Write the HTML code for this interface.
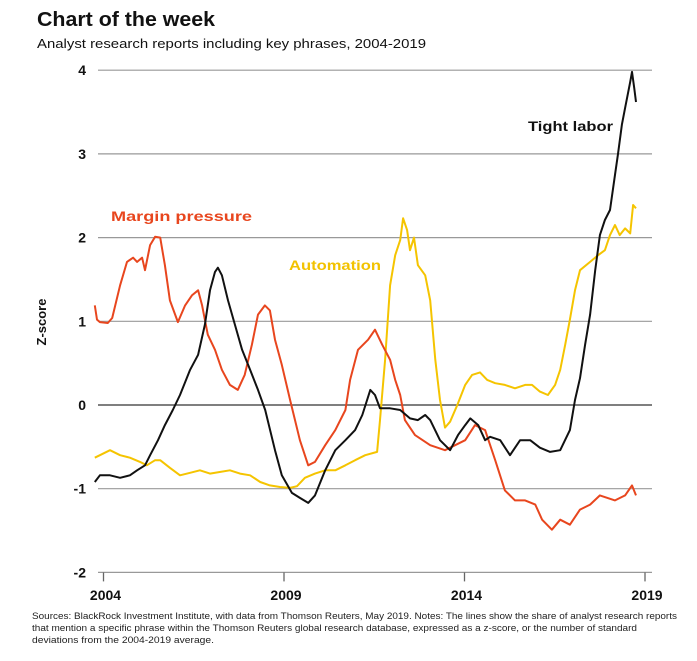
<!DOCTYPE html>
<html><head><meta charset="utf-8"><style>
body{margin:0;background:#fff;width:697px;height:656px;overflow:hidden;font-family:"Liberation Sans",sans-serif}
</style></head><body>
<svg id="chart" width="697" height="656" viewBox="0 0 697 656" xmlns="http://www.w3.org/2000/svg" style="font-family:'Liberation Sans',sans-serif">
<text x="37" y="26" font-size="20" font-weight="bold" fill="#111" textLength="178" lengthAdjust="spacingAndGlyphs">Chart of the week</text>
<text x="37" y="48" font-size="13" fill="#111" textLength="389" lengthAdjust="spacingAndGlyphs">Analyst research reports including key phrases, 2004-2019</text>
<text transform="translate(46,322) rotate(-90)" text-anchor="middle" font-size="13" font-weight="bold" fill="#111">Z-score</text>
<g id="grid"></g><g id="lines"></g>
<text x="528" y="131" font-size="14" font-weight="bold" fill="#111" textLength="85" lengthAdjust="spacingAndGlyphs">Tight labor</text>
<text x="111" y="221" font-size="14" font-weight="bold" fill="#e8461e" textLength="141" lengthAdjust="spacingAndGlyphs">Margin pressure</text>
<text x="289" y="270" font-size="14" font-weight="bold" fill="#f2c200" textLength="92" lengthAdjust="spacingAndGlyphs">Automation</text>
<text font-size="9" fill="#222"><tspan x="32" y="619" textLength="645" lengthAdjust="spacingAndGlyphs">Sources: BlackRock Investment Institute, with data from Thomson Reuters, May 2019. Notes: The lines show the share of analyst research reports</tspan><tspan x="32" y="631" textLength="605" lengthAdjust="spacingAndGlyphs">that mention a specific phrase within the Thomson Reuters global research database, expressed as a z-score, or the number of standard</tspan><tspan x="32" y="643" textLength="182" lengthAdjust="spacingAndGlyphs">deviations from the 2004-2019 average.</tspan></text>
</svg>
<script>
const yTicks=[4,3,2,1,0,-1,-2];
const xTicks=[2004,2009,2014,2019];
const marginYears=[2003.76,2003.82,2003.90,2004.12,2004.24,2004.46,2004.65,2004.82,2004.93,2005.07,2005.15,2005.29,2005.43,2005.57,2005.70,2005.84,2006.06,2006.26,2006.45,2006.62,2006.73,2006.89,2007.09,2007.28,2007.50,2007.72,2007.91,2008.11,2008.28,2008.47,2008.61,2008.75,2008.94,2009.17,2009.44,2009.67,2009.86,2010.14,2010.42,2010.70,2010.83,2011.05,2011.33,2011.52,2011.72,2011.94,2012.08,2012.22,2012.35,2012.63,2013.05,2013.46,2013.74,2014.02,2014.29,2014.57,2014.85,2015.12,2015.40,2015.68,2015.96,2016.15,2016.42,2016.65,2016.92,2017.20,2017.48,2017.75,2018.17,2018.45,2018.64,2018.75];
const marginValues=[1.19,1.02,0.99,0.98,1.04,1.43,1.71,1.76,1.71,1.76,1.61,1.91,2.01,2.0,1.67,1.25,0.99,1.19,1.31,1.37,1.19,0.84,0.66,0.42,0.24,0.18,0.36,0.72,1.08,1.19,1.13,0.78,0.48,0.06,-0.42,-0.72,-0.68,-0.48,-0.3,-0.06,0.3,0.66,0.78,0.9,0.72,0.54,0.3,0.12,-0.18,-0.36,-0.48,-0.54,-0.48,-0.42,-0.24,-0.3,-0.66,-1.02,-1.14,-1.14,-1.19,-1.37,-1.49,-1.37,-1.43,-1.25,-1.19,-1.08,-1.14,-1.08,-0.96,-1.08];
const laborYears=[2003.76,2003.90,2004.18,2004.46,2004.73,2004.93,2005.15,2005.29,2005.51,2005.70,2005.92,2006.12,2006.40,2006.62,2006.81,2006.95,2007.09,2007.17,2007.28,2007.45,2007.64,2007.84,2008.06,2008.28,2008.48,2008.75,2008.94,2009.22,2009.44,2009.67,2009.86,2010.14,2010.42,2010.70,2010.97,2011.17,2011.39,2011.52,2011.66,2011.94,2012.22,2012.49,2012.71,2012.91,2013.05,2013.32,2013.60,2013.82,2014.02,2014.16,2014.38,2014.57,2014.71,2014.99,2015.26,2015.54,2015.82,2016.09,2016.37,2016.65,2016.92,2017.06,2017.20,2017.34,2017.48,2017.62,2017.75,2017.89,2018.03,2018.17,2018.25,2018.36,2018.45,2018.59,2018.64,2018.70,2018.75];
const laborValues=[-0.92,-0.84,-0.84,-0.87,-0.84,-0.78,-0.72,-0.6,-0.42,-0.24,-0.06,0.12,0.42,0.6,0.96,1.37,1.59,1.64,1.55,1.25,0.96,0.66,0.42,0.18,-0.06,-0.54,-0.84,-1.05,-1.11,-1.17,-1.08,-0.78,-0.54,-0.42,-0.3,-0.12,0.18,0.12,-0.04,-0.04,-0.06,-0.16,-0.18,-0.12,-0.18,-0.42,-0.54,-0.36,-0.24,-0.16,-0.24,-0.42,-0.38,-0.42,-0.6,-0.42,-0.42,-0.51,-0.56,-0.54,-0.3,0.06,0.32,0.72,1.08,1.61,2.03,2.21,2.33,2.75,2.99,3.35,3.55,3.86,3.98,3.79,3.62];
const autoYears=[2003.76,2003.90,2004.18,2004.46,2004.73,2005.01,2005.20,2005.43,2005.57,2005.84,2006.12,2006.40,2006.67,2006.95,2007.22,2007.50,2007.78,2008.06,2008.34,2008.61,2008.89,2009.17,2009.36,2009.58,2009.86,2010.14,2010.42,2010.70,2010.97,2011.25,2011.58,2011.66,2011.80,2011.94,2012.08,2012.22,2012.30,2012.41,2012.49,2012.60,2012.71,2012.91,2013.05,2013.19,2013.32,2013.46,2013.60,2013.80,2014.02,2014.21,2014.43,2014.63,2014.85,2015.12,2015.40,2015.68,2015.87,2016.09,2016.31,2016.51,2016.65,2016.79,2016.92,2017.06,2017.20,2017.48,2017.70,2017.89,2018.03,2018.17,2018.30,2018.45,2018.59,2018.67,2018.75];
const autoValues=[-0.63,-0.6,-0.54,-0.6,-0.63,-0.68,-0.72,-0.66,-0.66,-0.75,-0.84,-0.81,-0.78,-0.82,-0.8,-0.78,-0.82,-0.84,-0.92,-0.96,-0.98,-0.99,-0.97,-0.87,-0.82,-0.78,-0.78,-0.72,-0.66,-0.6,-0.56,-0.18,0.54,1.43,1.79,1.97,2.23,2.09,1.85,2.0,1.67,1.55,1.25,0.54,0.06,-0.27,-0.2,0,0.24,0.36,0.39,0.3,0.26,0.24,0.2,0.24,0.24,0.16,0.12,0.24,0.42,0.72,1.02,1.37,1.61,1.71,1.79,1.85,2.03,2.15,2.03,2.11,2.05,2.39,2.35];

const NS='http://www.w3.org/2000/svg';
function xScale(yr){return 103.5+(yr-2004)*36.1;}
function yScale(v){return 405-v*83.7;}
const grid=document.getElementById('grid'),lines=document.getElementById('lines');
function mk(tag,attrs,parent){const e=document.createElementNS(NS,tag);for(const k in attrs)e.setAttribute(k,attrs[k]);parent.appendChild(e);return e;}
yTicks.forEach(t=>{
  const l=mk('line',{x1:98,x2:652,y1:yScale(t),y2:yScale(t),stroke:t===0?'#333':'#999','stroke-width':t===0?1.3:1.2},grid);
  
  
  const tx=mk('text',{x:86,y:yScale(t)+5,'text-anchor':'end','font-size':14,'font-weight':'bold',fill:'#111'},grid);
  tx.textContent=t<0?'-'+Math.abs(t):String(t);
  
  
});
xTicks.forEach(t=>{
  const l=mk('line',{x1:xScale(t),x2:xScale(t),y1:yScale(-2),y2:yScale(-2)+9,stroke:'#666','stroke-width':1.3},grid);
  
  
  const tx=mk('text',{x:xScale(t)+2,y:600,'text-anchor':'middle','font-size':14,'font-weight':'bold',fill:'#111'},grid);
  tx.textContent=String(t);
  
  
});
function series(years,vals,color,name){
  const d=years.map((y,i)=>(i?'L':'M')+xScale(y).toFixed(1)+','+yScale(vals[i]).toFixed(1)).join('');
  const p=mk('path',{d:d,fill:'none',stroke:color,'stroke-width':2,'stroke-linejoin':'round'},lines);
  
  
}
series(autoYears,autoValues,'#f5c400','automation-line');
series(marginYears,marginValues,'#e8461e','margin-pressure-line');
series(laborYears,laborValues,'#111','tight-labor-line');
</script>
</body></html>
